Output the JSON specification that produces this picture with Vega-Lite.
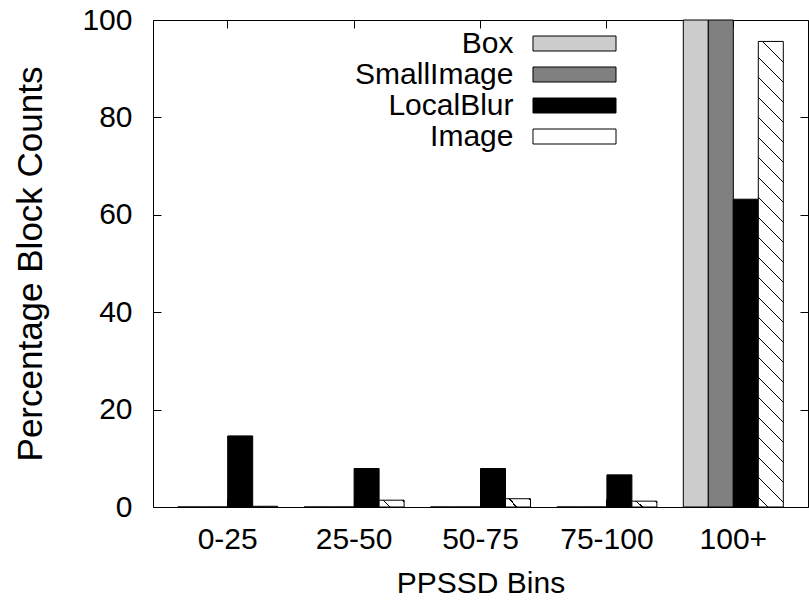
{
  "$schema": "https://vega.github.io/schema/vega-lite/v6.json",
  "width": 655,
  "height": 487,
  "autosize": "none",
  "padding": {"left": 153, "top": 20, "right": 1, "bottom": 98},
  "background": "white",
  "data": {
    "values": [
      {"bin": "0-25", "series": "Box", "value": 0},
      {"bin": "0-25", "series": "SmallImage", "value": 0},
      {"bin": "0-25", "series": "LocalBlur", "value": 14.6},
      {"bin": "0-25", "series": "Image", "value": 0.15},
      {"bin": "25-50", "series": "Box", "value": 0},
      {"bin": "25-50", "series": "SmallImage", "value": 0},
      {"bin": "25-50", "series": "LocalBlur", "value": 7.9},
      {"bin": "25-50", "series": "Image", "value": 1.4},
      {"bin": "50-75", "series": "Box", "value": 0},
      {"bin": "50-75", "series": "SmallImage", "value": 0},
      {"bin": "50-75", "series": "LocalBlur", "value": 7.9},
      {"bin": "50-75", "series": "Image", "value": 1.7},
      {"bin": "75-100", "series": "Box", "value": 0},
      {"bin": "75-100", "series": "SmallImage", "value": 0},
      {"bin": "75-100", "series": "LocalBlur", "value": 6.6},
      {"bin": "75-100", "series": "Image", "value": 1.2},
      {"bin": "100+", "series": "Box", "value": 100},
      {"bin": "100+", "series": "SmallImage", "value": 100},
      {"bin": "100+", "series": "LocalBlur", "value": 63.2},
      {"bin": "100+", "series": "Image", "value": 95.6}
    ]
  },
  "resolve": {"axis": {"x": "independent", "y": "independent"}},
  "layer": [
    {
      "mark": {"type": "point", "opacity": 0},
      "encoding": {
        "x": {"field": "bin", "type": "nominal", "sort": ["0-25", "25-50", "50-75", "75-100", "100+"],
              "axis": {"orient": "top", "labels": false, "title": null, "domain": false, "tickSize": -8}},
        "y": {"field": "value", "type": "quantitative",
              "axis": {"orient": "right", "labels": false, "title": null, "domain": false, "tickSize": -8, "values": [0, 20, 40, 60, 80, 100]}}
      }
    },
    {
      "mark": {"type": "bar", "stroke": "black", "strokeWidth": 1},
      "encoding": {
        "x": {"field": "bin", "type": "nominal", "sort": ["0-25", "25-50", "50-75", "75-100", "100+"],
              "scale": {"paddingInner": 0.2089, "paddingOuter": 0.1954},
              "axis": {"orient": "bottom", "title": "PPSSD Bins", "labelAngle": 0, "tickSize": -8, "labelPadding": 25, "titlePadding": 14, "domain": false}},
        "xOffset": {"field": "series", "type": "nominal", "sort": ["Box", "SmallImage", "LocalBlur", "Image"],
                    "scale": {"paddingInner": 0, "paddingOuter": 0}},
        "y": {"field": "value", "type": "quantitative", "stack": null,
              "scale": {"domain": [0, 100], "nice": false},
              "axis": {"orient": "left", "values": [0, 20, 40, 60, 80, 100], "tickSize": -8, "labelPadding": 29, "title": "Percentage Block Counts", "titleFontSize": 35, "titlePadding": 33, "domain": false}},
        "fill": {
          "field": "series", "type": "nominal",
          "scale": {"domain": ["Box", "SmallImage", "LocalBlur", "Image"], "range": ["#cccccc", "#808080", "#000000", "#ffffff"]},
          "condition": [
            {"test": "datum.series === 'Image' && datum.value > 50",
             "value": {"gradient": "linear", "x1": 0, "y1": 1, "x2": 0.0564, "y2": -0.0507,
               "stops": [
                 {"offset": 0, "color": "#ffffff"},
                 {"offset": 0.0184, "color": "#ffffff"}, {"offset": 0.0184, "color": "#000000"}, {"offset": 0.0216, "color": "#000000"}, {"offset": 0.0216, "color": "#ffffff"},
                 {"offset": 0.0592, "color": "#ffffff"}, {"offset": 0.0592, "color": "#000000"}, {"offset": 0.0624, "color": "#000000"}, {"offset": 0.0624, "color": "#ffffff"},
                 {"offset": 0.0999, "color": "#ffffff"}, {"offset": 0.0999, "color": "#000000"}, {"offset": 0.1031, "color": "#000000"}, {"offset": 0.1031, "color": "#ffffff"},
                 {"offset": 0.1407, "color": "#ffffff"}, {"offset": 0.1407, "color": "#000000"}, {"offset": 0.1439, "color": "#000000"}, {"offset": 0.1439, "color": "#ffffff"},
                 {"offset": 0.1815, "color": "#ffffff"}, {"offset": 0.1815, "color": "#000000"}, {"offset": 0.1847, "color": "#000000"}, {"offset": 0.1847, "color": "#ffffff"},
                 {"offset": 0.2223, "color": "#ffffff"}, {"offset": 0.2223, "color": "#000000"}, {"offset": 0.2255, "color": "#000000"}, {"offset": 0.2255, "color": "#ffffff"},
                 {"offset": 0.2630, "color": "#ffffff"}, {"offset": 0.2630, "color": "#000000"}, {"offset": 0.2662, "color": "#000000"}, {"offset": 0.2662, "color": "#ffffff"},
                 {"offset": 0.3038, "color": "#ffffff"}, {"offset": 0.3038, "color": "#000000"}, {"offset": 0.3070, "color": "#000000"}, {"offset": 0.3070, "color": "#ffffff"},
                 {"offset": 0.3446, "color": "#ffffff"}, {"offset": 0.3446, "color": "#000000"}, {"offset": 0.3478, "color": "#000000"}, {"offset": 0.3478, "color": "#ffffff"},
                 {"offset": 0.3853, "color": "#ffffff"}, {"offset": 0.3853, "color": "#000000"}, {"offset": 0.3885, "color": "#000000"}, {"offset": 0.3885, "color": "#ffffff"},
                 {"offset": 0.4261, "color": "#ffffff"}, {"offset": 0.4261, "color": "#000000"}, {"offset": 0.4293, "color": "#000000"}, {"offset": 0.4293, "color": "#ffffff"},
                 {"offset": 0.4669, "color": "#ffffff"}, {"offset": 0.4669, "color": "#000000"}, {"offset": 0.4701, "color": "#000000"}, {"offset": 0.4701, "color": "#ffffff"},
                 {"offset": 0.5076, "color": "#ffffff"}, {"offset": 0.5076, "color": "#000000"}, {"offset": 0.5108, "color": "#000000"}, {"offset": 0.5108, "color": "#ffffff"},
                 {"offset": 0.5484, "color": "#ffffff"}, {"offset": 0.5484, "color": "#000000"}, {"offset": 0.5516, "color": "#000000"}, {"offset": 0.5516, "color": "#ffffff"},
                 {"offset": 0.5892, "color": "#ffffff"}, {"offset": 0.5892, "color": "#000000"}, {"offset": 0.5924, "color": "#000000"}, {"offset": 0.5924, "color": "#ffffff"},
                 {"offset": 0.6300, "color": "#ffffff"}, {"offset": 0.6300, "color": "#000000"}, {"offset": 0.6332, "color": "#000000"}, {"offset": 0.6332, "color": "#ffffff"},
                 {"offset": 0.6707, "color": "#ffffff"}, {"offset": 0.6707, "color": "#000000"}, {"offset": 0.6739, "color": "#000000"}, {"offset": 0.6739, "color": "#ffffff"},
                 {"offset": 0.7115, "color": "#ffffff"}, {"offset": 0.7115, "color": "#000000"}, {"offset": 0.7147, "color": "#000000"}, {"offset": 0.7147, "color": "#ffffff"},
                 {"offset": 0.7523, "color": "#ffffff"}, {"offset": 0.7523, "color": "#000000"}, {"offset": 0.7555, "color": "#000000"}, {"offset": 0.7555, "color": "#ffffff"},
                 {"offset": 0.7930, "color": "#ffffff"}, {"offset": 0.7930, "color": "#000000"}, {"offset": 0.7962, "color": "#000000"}, {"offset": 0.7962, "color": "#ffffff"},
                 {"offset": 0.8338, "color": "#ffffff"}, {"offset": 0.8338, "color": "#000000"}, {"offset": 0.8370, "color": "#000000"}, {"offset": 0.8370, "color": "#ffffff"},
                 {"offset": 0.8746, "color": "#ffffff"}, {"offset": 0.8746, "color": "#000000"}, {"offset": 0.8778, "color": "#000000"}, {"offset": 0.8778, "color": "#ffffff"},
                 {"offset": 0.9153, "color": "#ffffff"}, {"offset": 0.9153, "color": "#000000"}, {"offset": 0.9185, "color": "#000000"}, {"offset": 0.9185, "color": "#ffffff"},
                 {"offset": 0.9561, "color": "#ffffff"}, {"offset": 0.9561, "color": "#000000"}, {"offset": 0.9593, "color": "#000000"}, {"offset": 0.9593, "color": "#ffffff"},
                 {"offset": 1, "color": "#ffffff"}
               ]}},
            {"test": "datum.series === 'Image'",
             "value": {"gradient": "linear", "x1": 0, "y1": 1, "x2": 1.187, "y2": 0.668,
               "stops": [
                 {"offset": 0, "color": "#ffffff"},
                 {"offset": 0.315, "color": "#ffffff"}, {"offset": 0.315, "color": "#000000"}, {"offset": 0.365, "color": "#000000"}, {"offset": 0.365, "color": "#ffffff"},
                 {"offset": 0.935, "color": "#ffffff"}, {"offset": 0.935, "color": "#000000"}, {"offset": 0.985, "color": "#000000"}, {"offset": 0.985, "color": "#ffffff"},
                 {"offset": 1, "color": "#ffffff"}
               ]}}
          ],
          "legend": {
            "orient": "none", "legendX": 406, "legendY": 8, "title": null, "padding": 0,
            "symbolType": "M-2.767,-0.5H2.767V0.5H-2.767Z", "symbolSize": 900,
            "labelAlign": "right", "labelOffset": -76.5, "labelFontSize": 30, "labelFont": "Liberation Sans",
            "labelColor": "black", "labelLimit": 400, "rowPadding": 0,
            "symbolStrokeColor": "black", "symbolStrokeWidth": 1, "symbolOpacity": 1,
            "encode": {
              "symbols": {
                "update": {
                  "stroke": {"value": "black"},
                  "strokeWidth": {"value": 1},
                  "opacity": {"value": 1},
                  "fill": {"expr": "(datum.value === 'Image' || datum.label === 'Image' || datum.index === 3) ? {gradient: 'linear', x1: 0, y1: 1, x2: 1.1434, y2: 0.7934, stops: [{offset: 0, color: '#ffffff'}, {offset: 0.175, color: '#ffffff'}, {offset: 0.175, color: '#000000'}, {offset: 0.197, color: '#000000'}, {offset: 0.197, color: '#ffffff'}, {offset: 0.430, color: '#ffffff'}, {offset: 0.430, color: '#000000'}, {offset: 0.452, color: '#000000'}, {offset: 0.452, color: '#ffffff'}, {offset: 0.685, color: '#ffffff'}, {offset: 0.685, color: '#000000'}, {offset: 0.707, color: '#000000'}, {offset: 0.707, color: '#ffffff'}, {offset: 0.940, color: '#ffffff'}, {offset: 0.940, color: '#000000'}, {offset: 0.962, color: '#000000'}, {offset: 0.962, color: '#ffffff'}, {offset: 1, color: '#ffffff'}]} : scale('fill', datum.value)"}
                }
              }
            }
          }
        }
      }
    }
  ],
  "config": {
    "font": "Liberation Sans",
    "view": {"stroke": "black", "strokeWidth": 1},
    "axis": {
      "grid": false,
      "domainColor": "black",
      "tickColor": "black",
      "tickWidth": 1,
      "labelColor": "black",
      "titleColor": "black",
      "labelFont": "Liberation Sans",
      "titleFont": "Liberation Sans",
      "labelFontSize": 30,
      "titleFontSize": 30,
      "titleFontWeight": "normal"
    }
  }
}
